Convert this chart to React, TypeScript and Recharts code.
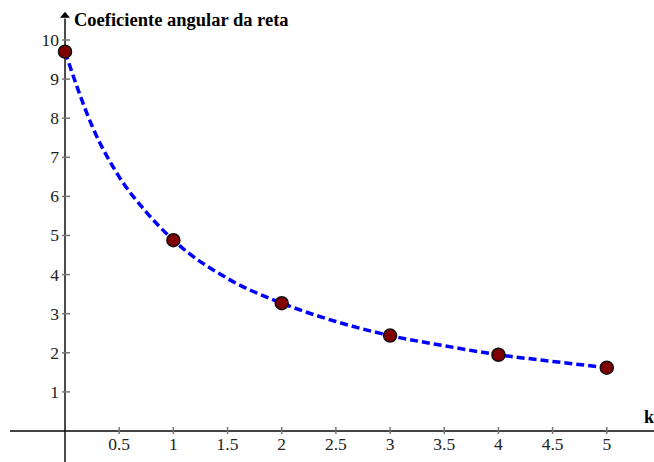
import React from "react";
import {
  ComposedChart,
  Line,
  Scatter,
  XAxis,
  YAxis,
  ReferenceLine,
  ReferenceDot,
} from "recharts";

// measured points (red dots)
const pointX = [0, 1, 2, 3, 4, 5];
const pointY = [9.7, 4.88, 3.27, 2.44, 1.95, 1.62];

// values
const curveX = [0, 0.25, 0.5, 0.75, 1, 1.5, 2, 2.5, 3, 3.5, 4, 4.5, 5];
const curveY = [9.7, 7.8, 6.5, 5.6, 4.88, 3.9, 3.27, 2.8, 2.44, 2.18, 1.95, 1.78, 1.62];

const xTicks = [0.5, 1, 1.5, 2, 2.5, 3, 3.5, 4, 4.5, 5];
const xTickLabels = ["0.5", "1", "1.5", "2", "2.5", "3", "3.5", "4", "4.5", "5"];
const yTicks = [1, 2, 3, 4, 5, 6, 7, 8, 9, 10];

const yTitle = "Coeficiente angular da reta";
const xTitle = "k";

const points = pointX.map((x, i) => ({ x, y: pointY[i] }));
const curve = curveX.map((x, i) => ({ x, y: curveY[i] }));

const serif = { fontFamily: "'Liberation Serif', 'DejaVu Serif', serif" };

export default function App() {
  return (
    <div style={{ position: "absolute", left: 0, top: 0, background: "#fff" }}>
      <ComposedChart
        width={654}
        height={462}
        margin={{ top: 0, right: 0, bottom: 0, left: 0 }}
      >
        <XAxis
          hide
          type="number"
          dataKey="x"
          domain={[-0.6, 5.436]}
          allowDataOverflow
        />
        <YAxis hide type="number" domain={[-0.793, 11.023]} allowDataOverflow />

        {/* axes */}
        <ReferenceLine
          segment={[
            { x: -0.508, y: 0 },
            { x: 5.436, y: 0 },
          ]}
          stroke="#444"
          strokeWidth={2}
        />
        <ReferenceLine
          segment={[
            { x: 0, y: -0.793 },
            { x: 0, y: 10.55 },
          ]}
          stroke="#111"
          strokeWidth={1.5}
        />

        {xTicks.map((t, i) => (
          <ReferenceDot
            key={`xt-${t}`}
            x={t}
            y={0}
            r={0}
            shape={(p: any) => (
              <g>
                <line x1={p.cx} x2={p.cx} y1={p.cy - 4} y2={p.cy + 3} stroke="#777" strokeWidth={1.5} />
                <text
                  x={p.cx}
                  y={p.cy + 19}
                  textAnchor="middle"
                  fontSize={17.5}
                  fill="#222"
                  style={serif}
                >
                  {xTickLabels[i]}
                </text>
              </g>
            )}
          />
        ))}

        {yTicks.map((t) => (
          <ReferenceDot
            key={`yt-${t}`}
            x={0}
            y={t}
            r={0}
            shape={(p: any) => (
              <g>
                <line x1={p.cx - 3} x2={p.cx + 5} y1={p.cy} y2={p.cy} stroke="#777" strokeWidth={1.5} />
                <text
                  x={p.cx - 6}
                  y={p.cy + 6}
                  textAnchor="end"
                  fontSize={17.5}
                  fill="#222"
                  style={serif}
                >
                  {t}
                </text>
              </g>
            )}
          />
        ))}

        {/* arrow + axis titles */}
        <ReferenceDot
          x={0}
          y={10.7}
          r={0}
          shape={(p: any) => (
            <g>
              <path
                d={`M${p.cx - 5},${p.cy + 5} L${p.cx},${p.cy - 1} L${p.cx + 5},${p.cy + 5} Z`}
                fill="#000"
              />
              <text
                x={p.cx + 9}
                y={p.cy + 13}
                fontSize={18.5}
                fontWeight="bold"
                fill="#000"
                style={serif}
              >
                {yTitle}
              </text>
            </g>
          )}
        />
        <ReferenceDot
          x={5.4}
          y={0}
          r={0}
          shape={(p: any) => (
            <text
              x={p.cx - 6}
              y={p.cy - 8}
              fontSize={18}
              fontWeight="bold"
              fill="#000"
              style={serif}
            >
              {xTitle}
            </text>
          )}
        />

        <Scatter
          data={points}
          dataKey="y"
          isAnimationActive={false}
          shape={(p: any) => (
            <circle cx={p.cx} cy={p.cy} r={6.5} fill="#800000" stroke="#111" strokeWidth={1.5} />
          )}
        />
        <Line
          data={curve}
          dataKey="y"
          type="monotone"
          stroke="#0000ff"
          strokeWidth={3.5}
          strokeDasharray="8 4"
          dot={false}
          activeDot={false}
          isAnimationActive={false}
        />
      </ComposedChart>
    </div>
  );
}
